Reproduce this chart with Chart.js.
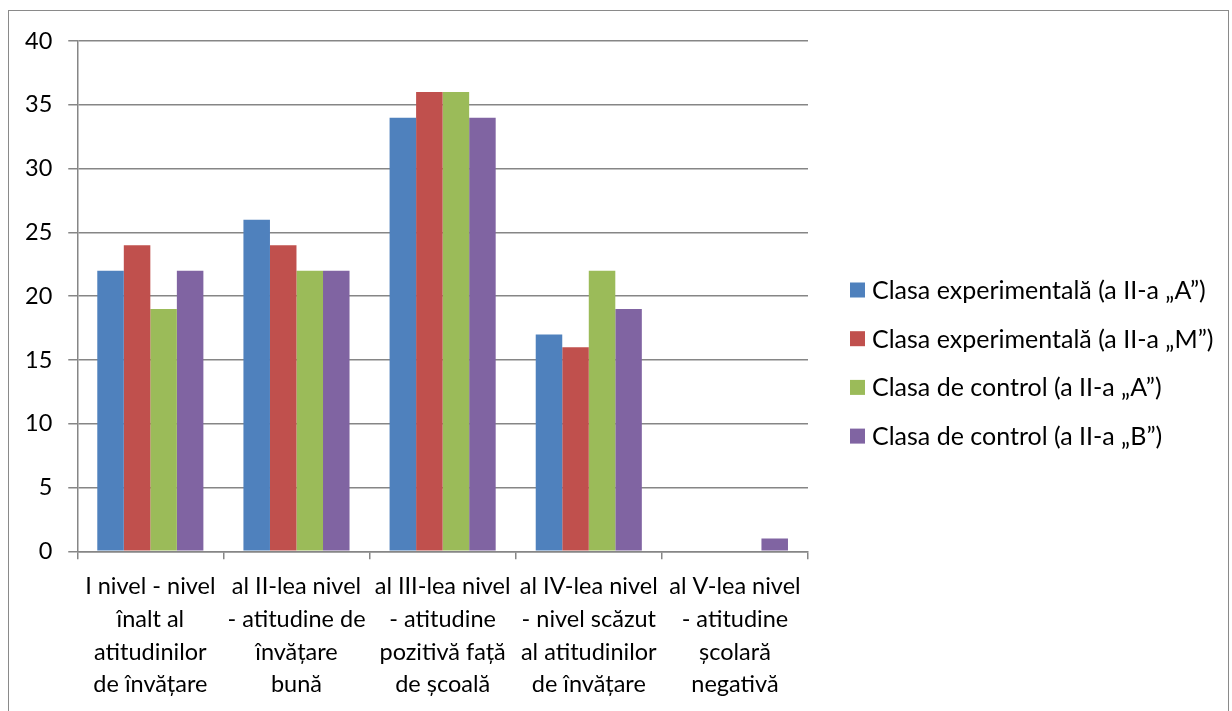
<!DOCTYPE html>
<html>
<head>
<meta charset="utf-8">
<script src="https://cdn.jsdelivr.net/npm/chart.js@4"></script>
<style>
  html, body { margin: 0; padding: 0; background: #ffffff; }
  #frame {
    position: absolute; left: 8px; top: 10px;
    width: 1219px; height: 720px;
    border: 1px solid #8a8a8a; background: #ffffff;
  }
  #wrap { position: absolute; left: 0; top: 0; width: 1219px; height: 701px; }
</style>
</head>
<body>
<div id="frame"><div id="wrap"><canvas id="c"></canvas></div></div>
<script>
const categories = [
  ["I nivel - nivel", "înalt al", "atitudinilor", "de învățare"],
  ["al II-lea nivel", "- atitudine de", "învățare", "bună"],
  ["al III-lea nivel", "- atitudine", "pozitivă față", "de școală"],
  ["al IV-lea nivel", "- nivel scăzut", "al atitudinilor", "de învățare"],
  ["al V-lea nivel", "- atitudine", "școlară", "negativă"]
];
const seriesNames = [
  "Clasa experimentală (a II-a „A”)",
  "Clasa experimentală (a II-a „M”)",
  "Clasa de control (a II-a „A”)",
  "Clasa de control (a II-a „B”)"
];
const expA = [22, 26, 34, 17, 0];
const expM = [24, 24, 36, 16, 0];
const ctrlA = [19, 22, 36, 22, 0];
const ctrlB = [22, 22, 34, 19, 1];
const colors = ["#4F81BD", "#C0504D", "#9BBB59", "#8064A2"];

const FONT = "Lato, 'Liberation Sans', sans-serif";
const AXIS = "#868686";

// Legend column to the right of the plot, built from the datasets
const sideLegend = {
  id: "sideLegend",
  afterDraw(chart, args, opts) {
    const ctx = chart.ctx;
    ctx.save();
    ctx.font = `${opts.fontSize}px ${FONT}`;
    ctx.textBaseline = "middle";
    ctx.textAlign = "left";
    chart.data.datasets.forEach((ds, i) => {
      const cy = opts.top + i * opts.step;
      ctx.fillStyle = ds.backgroundColor;
      ctx.fillRect(opts.left, cy - opts.box / 2, opts.box, opts.box);
      ctx.fillStyle = "#000000";
      ctx.fillText(ds.label, opts.left + opts.box + opts.gap, cy + 1);
    });
    ctx.restore();
  }
};

new Chart(document.getElementById("c"), {
  type: "bar",
  data: {
    labels: categories,
    datasets: [expA, expM, ctrlA, ctrlB].map((d, i) => ({
      label: seriesNames[i],
      data: d,
      backgroundColor: colors[i],
      borderWidth: 0,
      categoryPercentage: 0.726,
      barPercentage: 1.0
    }))
  },
  plugins: [sideLegend],
  options: {
    responsive: true,
    maintainAspectRatio: false,
    animation: false,
    layout: { padding: { top: 29, left: 0, right: 420, bottom: 0 } },
    plugins: {
      tooltip: { enabled: false },
      legend: { display: false },
      sideLegend: { left: 841, top: 279, step: 48.7, box: 15, gap: 7, fontSize: 25 }
    },
    scales: {
      x: {
        grid: {
          offset: true,
          drawOnChartArea: false,
          drawTicks: true,
          tickLength: 8,
          color: AXIS,
          lineWidth: 1.5
        },
        border: { display: true, color: AXIS, width: 1.5 },
        ticks: {
          color: "#000000",
          font: { family: FONT, size: 23.5, lineHeight: 1.39 },
          padding: 11,
          maxRotation: 0,
          autoSkip: false
        }
      },
      y: {
        min: 0,
        max: 40,
        ticks: {
          stepSize: 5,
          color: "#000000",
          font: { family: FONT, size: 23.5 },
          padding: 16
        },
        grid: {
          color: AXIS,
          lineWidth: 1.5,
          tickLength: 9,
          drawTicks: true
        },
        border: { display: true, color: AXIS, width: 1.5 }
      }
    }
  }
});
</script>
</body>
</html>
